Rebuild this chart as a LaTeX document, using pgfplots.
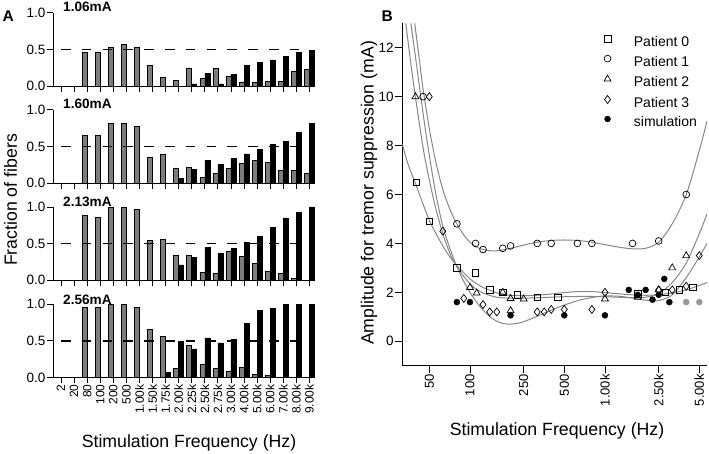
\documentclass[border=0pt]{standalone}
\usepackage{pgfplots}
\pgfplotsset{compat=1.18}
\usepackage{pgfplotstable}
\usepackage{fontspec}
\setmainfont{Liberation Sans}
\newcommand\fs[1]{\fontsize{#1}{#1}\selectfont}
\definecolor{barGray}{RGB}{125,125,125}
\definecolor{curveGray}{RGB}{135,135,135}
\definecolor{simGray}{RGB}{150,150,150}

\pgfplotstableread{
i g b
0 0 0
1 0 0
2 0.46 0
3 0.46 0
4 0.53 0
5 0.57 0
6 0.53 0
7 0.28 0
8 0.12 0
9 0.08 0
10 0.25 0.03
11 0.11 0.17
12 0.24 0.03
13 0.13 0.16
14 0.06 0.28
15 0.06 0.33
16 0.07 0.36
17 0.07 0.41
18 0.21 0.46
19 0.23 0.49
}\dataA
\pgfplotstableread{
i g b
0 0 0
1 0 0
2 0.65 0
3 0.65 0
4 0.82 0
5 0.82 0
6 0.78 0
7 0.35 0
8 0.40 0
9 0.21 0.07
10 0.22 0.19
11 0.08 0.31
12 0.13 0.26
13 0.20 0.34
14 0.27 0.40
15 0.31 0.46
16 0.28 0.53
17 0.18 0.57
18 0.17 0.69
19 0.13 0.82
}\dataB
\pgfplotstableread{
i g b
0 0 0
1 0 0
2 0.88 0
3 0.86 0
4 1.00 0
5 1.00 0
6 0.97 0
7 0.54 0
8 0.56 0
9 0.34 0.21
10 0.34 0.31
11 0.11 0.45
12 0.10 0.37
13 0.39 0.43
14 0.33 0.52
15 0.23 0.60
16 0.12 0.72
17 0.09 0.85
18 0.03 0.93
19 0 1.00
}\dataC
\pgfplotstableread{
i g b
0 0 0
1 0 0
2 0.96 0
3 0.96 0
4 1.00 0
5 1.00 0
6 0.96 0
7 0.65 0
8 0.56 0.07
9 0.12 0.49
10 0.44 0.39
11 0.18 0.54
12 0.12 0.47
13 0.09 0.52
14 0.14 0.74
15 0.04 0.91
16 0.03 0.94
17 0 1.00
18 0 1.00
19 0 1.00
}\dataD

\pgfplotsset{
  panelA/.style={
    scale only axis, width=261.4pt, height=73.3pt,
    xmin=-0.6, xmax=19.4, ymin=0, ymax=1,
    axis x line=bottom, axis y line=left,
    axis line style={-, line width=0.8pt},
    xtick={0,...,19}, ytick={0,0.5,1}, yticklabels={0.0,0.5,1.0},
    xticklabels={},
    tick align=outside, major tick length=6pt,
    tick style={line width=0.8pt, black},
    /pgf/number format/assume math mode=true,
    yticklabel style={font=\fs{13.5}, inner sep=1.5pt},
    clip=false,
  },
  gbar/.style={ybar, bar width=5pt, bar shift=-2.5pt, fill=barGray, draw=black, line width=0.6pt},
  kbar/.style={ybar, bar width=5pt, bar shift=2.5pt, fill=black, draw=black, line width=0.6pt},
  dline/.style={black, line width=1.5pt, dash pattern=on 9.5pt off 11.3pt, forget plot},
}

\begin{document}
\begin{tikzpicture}
\path[use as bounding box] (0pt,0pt) rectangle (709pt,453pt);

% ---- Panel A ----
\begin{axis}[panelA, at={(53.2pt,366.8pt)}, anchor=south west]
\addplot[gbar] table[x=i,y=g]{\dataA};
\addplot[kbar] table[x=i,y=b]{\dataA};
\addplot[dline] coordinates {(0,0.5) (18.3,0.5)};
\node[anchor=base west, inner sep=0pt, font=\fs{13.6}\bfseries] at (axis cs:0.15,1) [yshift=1.5pt] {1.06mA};
\end{axis}

\begin{axis}[panelA, at={(53.2pt,269.8pt)}, anchor=south west]
\addplot[gbar] table[x=i,y=g]{\dataB};
\addplot[kbar] table[x=i,y=b]{\dataB};
\addplot[dline] coordinates {(0,0.5) (18.3,0.5)};
\node[anchor=base west, inner sep=0pt, font=\fs{13.6}\bfseries] at (axis cs:0.15,1) [yshift=1pt] {1.60mA};
\end{axis}

\begin{axis}[panelA, at={(53.2pt,172.7pt)}, anchor=south west]
\addplot[gbar] table[x=i,y=g]{\dataC};
\addplot[kbar] table[x=i,y=b]{\dataC};
\addplot[dline] coordinates {(0,0.5) (18.3,0.5)};
\node[anchor=base west, inner sep=0pt, font=\fs{13.6}\bfseries] at (axis cs:0.15,1) [yshift=0pt] {2.13mA};
\end{axis}

\begin{axis}[panelA, at={(53.2pt,75.6pt)}, anchor=south west,
  xticklabels={2,20,80,100,200,500,1.00k,1.50k,1.75k,2.00k,2.25k,2.50k,2.75k,3.00k,4.00k,5.00k,6.00k,7.00k,8.00k,9.00k},
  xticklabel style={rotate=90, anchor=east, font=\fs{12}, inner sep=1pt}]
\addplot[gbar] table[x=i,y=g]{\dataD};
\addplot[kbar] table[x=i,y=b]{\dataD};
\addplot[dline] coordinates {(0,0.5) (18.3,0.5)};
\node[anchor=base west, inner sep=0pt, font=\fs{13.6}\bfseries] at (axis cs:0.15,1) [yshift=0pt] {2.56mA};
\end{axis}

\node[rotate=90, font=\fs{17.7}] at (10.5pt,253pt) {Fraction of fibers};
\node[anchor=base, font=\fs{17.7}, inner sep=0pt] at (189pt,5.3pt) {Stimulation Frequency (Hz)};
\node[anchor=base west, font=\fs{15.5}\bfseries, inner sep=0pt] at (2.5pt,431.3pt) {A};
\node[anchor=base west, font=\fs{15.5}\bfseries, inner sep=0pt] at (381.5pt,431.3pt) {B};

% ---- Panel B ----
\begin{axis}[
  at={(402.3pt,87.3pt)}, anchor=south west,
  scale only axis, width=304.7pt, height=342.4pt,
  xmode=log, xmin=31.55, xmax=5700, ymin=-1, ymax=13,
  axis x line=bottom, axis y line=left,
  axis line style={-, line width=0.8pt},
  xtick={50,100,250,500,1000,2500,5000},
  xticklabels={50,100,250,500,1.00k,2.50k,5.00k},
  xminorticks=false,
  ytick={0,2,4,6,8,10,12},
  tick align=outside, major tick length=7pt,
  tick style={line width=0.8pt, black},
  /pgf/number format/assume math mode=true,
  yticklabel style={font=\fs{13.5}, inner sep=1.5pt},
  xticklabel style={rotate=90, anchor=east, font=\fs{13}, inner sep=1.5pt},
  legend style={draw=none, fill=none, at={(0.6554,0.9650)}, anchor=north west,
    inner sep=0pt, row sep=5.2pt, column sep=0pt,
    nodes={inner sep=0pt, text height=10pt, text depth=3.5pt},
    font=\fs{14}},
  legend cell align=left,
  legend image code/.code={\draw[#1] plot coordinates {(5pt,4.5pt)}; \path (0pt,0pt) (31pt,0pt);},
]
% fitted curves
\addplot[curveGray, line width=1pt, smooth, forget plot] table {
x y
31.55 8.05
35 7.2
39.5 6.45
45 5.6
50 4.95
56 4.4
63 3.9
71 3.45
80 3.1
90 2.8
100 2.55
112 2.35
125 2.2
141 2.08
158 1.98
178 1.92
200 1.88
250 1.86
315 1.88
400 1.93
500 1.99
630 2.03
800 2.03
1000 1.99
1260 1.94
1580 1.9
2000 1.88
2500 1.9
3150 1.98
4000 2.1
5000 2.28
5700 2.4
};
\addplot[curveGray, line width=1pt, smooth, forget plot] table {
x y
39 13
42 11.6
45 10.3
50 8.7
56 7.3
63 6.2
71 5.4
80 4.8
90 4.35
100 4.05
112 3.85
125 3.75
141 3.7
158 3.7
178 3.74
200 3.8
250 3.93
315 4.05
400 4.12
500 4.14
630 4.12
800 4.05
1000 3.95
1260 3.85
1580 3.78
2000 3.8
2500 4.05
3150 4.8
4000 6.0
5000 7.8
5700 9.0
};
\addplot[curveGray, line width=1pt, smooth, forget plot] table {
x y
33.5 13
36 11.6
39.2 10.1
45 7.9
50 6.6
56 5.4
63 4.4
71 3.6
80 3.05
90 2.65
100 2.35
112 2.12
125 1.97
141 1.87
158 1.8
178 1.77
200 1.76
250 1.76
315 1.78
400 1.8
500 1.82
630 1.83
800 1.83
1000 1.82
1260 1.8
1580 1.78
2000 1.8
2500 1.95
3150 2.4
4000 3.2
5000 4.4
5700 5.2
};
\addplot[curveGray, line width=1pt, smooth, forget plot] table {
x y
36.5 13
40 11.4
45 9.3
50 7.6
56 6.0
63 4.7
71 3.8
80 3.05
90 2.45
100 2.0
112 1.6
125 1.28
141 1.0
158 0.82
178 0.72
200 0.7
224 0.73
250 0.8
315 1.02
400 1.27
500 1.48
630 1.66
800 1.79
1000 1.85
1260 1.84
1580 1.77
2000 1.68
2500 1.66
3150 1.9
4000 2.6
5000 3.45
5700 4.0
};
% patients
\addplot[only marks, mark=square, mark size=3.3pt, black, line width=0.7pt] table {
x y
40 6.5
50 4.9
80 3.0
110 2.8
140 2.1
175 2.0
225 1.9
315 1.8
450 1.8
1750 1.95
2800 2.0
3550 2.1
4500 2.2
};
\addplot[only marks, mark=o, mark size=3.4pt, black, line width=0.7pt] table {
x y
45 10
80 4.8
110 4.0
125 3.75
175 3.8
200 3.9
315 4.0
400 4.0
625 4.0
800 4.0
1600 4.0
2500 4.1
4000 6.0
};
\addplot[only marks, mark=triangle, mark size=4pt, black, line width=0.7pt] table {
x y
39.5 10
100 2.2
112 1.97
175 2.0
200 1.75
200 1.25
250 1.73
1000 1.73
1750 1.8
2500 2.1
3150 3.0
4000 3.5
};
\addplot[only marks, mark=diamond, mark size=4pt, black, line width=0.7pt] table {
x y
50 10
63 4.5
90 1.75
125 1.5
140 1.2
158 1.2
315 1.2
355 1.2
400 1.3
500 1.3
800 1.3
1000 2.0
2500 2.1
3150 2.1
4000 2.25
5000 3.5
};
\addplot[only marks, mark=*, mark size=3pt, black] table {
x y
80 1.6
100 1.6
200 1.06
500 1.06
1000 1.06
1500 2.1
1750 1.9
2000 2.1
2250 1.7
2500 1.9
2750 2.55
3000 1.6
};
\addplot[only marks, mark=*, mark size=3pt, simGray, forget plot] table {
x y
4000 1.6
5000 1.6
};
\legend{Patient 0, Patient 1, Patient 2, Patient 3, simulation}
\end{axis}
\node[rotate=90, font=\fs{17.7}] at (369pt,260pt) {Amplitude for tremor suppression (mA)};
\node[anchor=base, font=\fs{17.7}, inner sep=0pt] at (557pt,17.5pt) {Stimulation Frequency (Hz)};
\end{tikzpicture}
\end{document}
